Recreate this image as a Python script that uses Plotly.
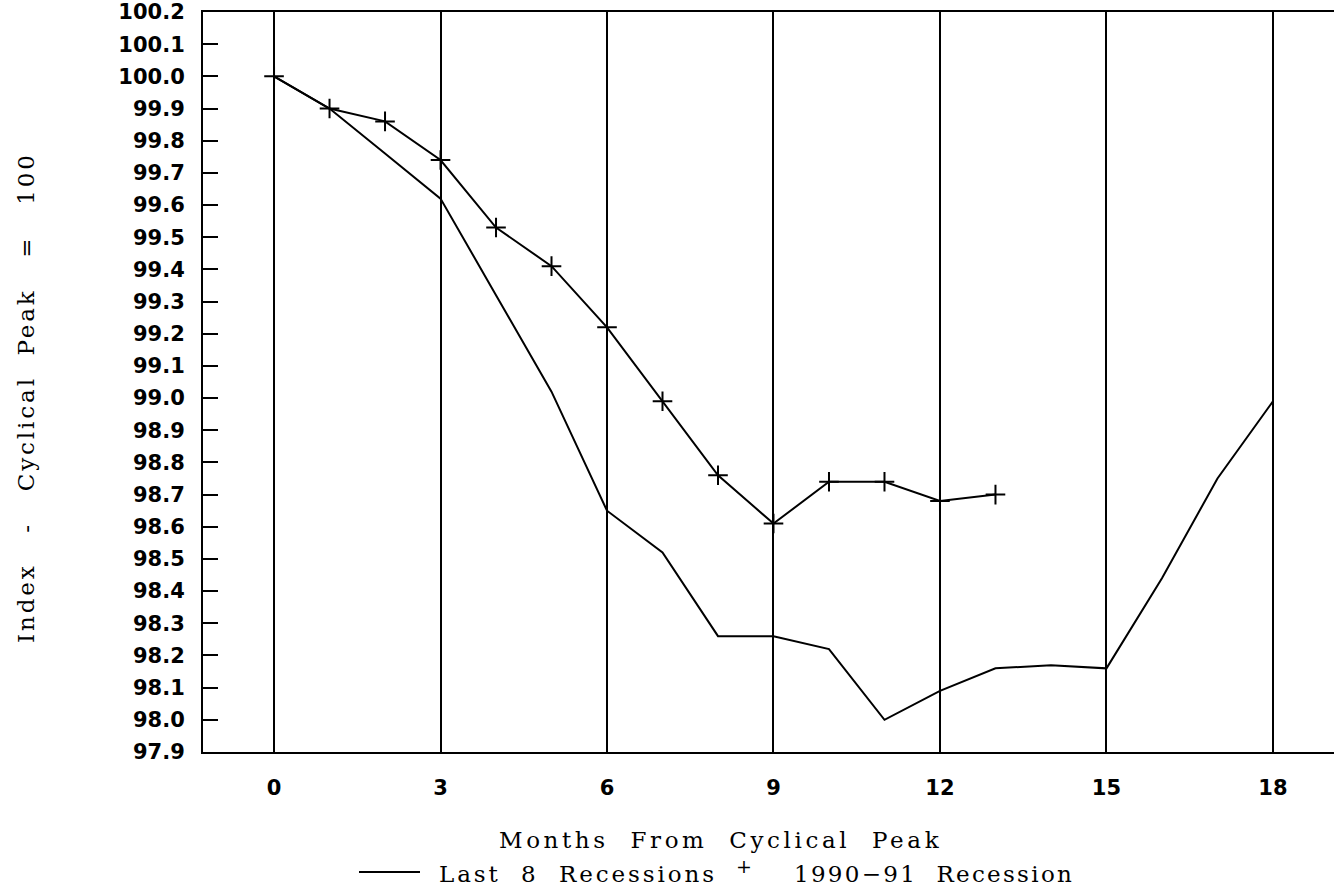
import plotly.graph_objects as go

months = list(range(0, 19))
last8 = [100.0, 99.90, 99.76, 99.62, 99.32, 99.02, 98.65, 98.52, 98.26, 98.26,
         98.22, 98.00, 98.09, 98.16, 98.17, 98.16, 98.44, 98.75, 98.99]
months_9091 = list(range(0, 14))
rec9091 = [100.0, 99.90, 99.86, 99.74, 99.53, 99.41, 99.22, 98.99, 98.76, 98.61,
           98.74, 98.74, 98.68, 98.70]

y_ticks = [round(97.9 + 0.1 * i, 1) for i in range(24)]
y_ticklabels = [f"{v:.1f}" for v in y_ticks]
x_ticks = [0, 3, 6, 9, 12, 15, 18]

tick_font = dict(family="DejaVu Sans", size=21, color="black", weight="bold")
text_font = dict(family="DejaVu Serif", size=23, color="black")


def spaced(s, px):
    return f'<span style="letter-spacing:{px}px">{s}</span>'


fig = go.Figure()
fig.add_trace(go.Scatter(x=months, y=last8, mode="lines", name="Last 8 Recessions",
                         line=dict(color="black", width=2), showlegend=False))
fig.add_trace(go.Scatter(x=months_9091, y=rec9091, mode="lines+markers",
                         name="1990\u221291 Recession",
                         line=dict(color="black", width=2),
                         marker=dict(symbol="cross-thin", size=14,
                                     line=dict(color="black", width=2)),
                         showlegend=False))

L, T, W, H, B = 203, 12, 1334, 888, 136
plot_w = W - L
plot_h = H - T - B


def px_x(p):
    return (p - L) / plot_w


def px_y(p):
    return (H - B - p) / plot_h


fig.update_layout(
    width=W, height=H,
    margin=dict(l=L, r=0, t=T, b=B),
    paper_bgcolor="white", plot_bgcolor="white",
    showlegend=False,
    xaxis=dict(range=[-1.28, 19.1], tickvals=x_ticks, ticktext=[str(v) for v in x_ticks],
               showgrid=True, gridcolor="black", gridwidth=2,
               showline=True, linecolor="black", linewidth=2, mirror=True,
               ticks="", tickfont=tick_font, zeroline=False, ticklabelstandoff=16),
    yaxis=dict(range=[97.9, 100.2], tickvals=y_ticks, ticktext=y_ticklabels,
               showgrid=False, zeroline=False,
               showline=True, linecolor="black", linewidth=2,
               ticks="inside", ticklen=15, tickwidth=2, tickcolor="black",
               tickfont=tick_font, ticklabelstandoff=12),
    annotations=[
        dict(text=spaced("Months  From  Cyclical  Peak", 3.6), xref="paper", yref="paper",
             x=px_x(720), y=px_y(840), xanchor="center", yanchor="middle",
             showarrow=False, font=text_font),
        dict(text=spaced("Index   -   Cyclical  Peak   =   100", 2.9), xref="paper", yref="paper",
             x=px_x(26), y=px_y(398), xanchor="center", yanchor="middle",
             textangle=-90, showarrow=False, font=text_font),
        # legend
        dict(text=spaced("Last  8  Recessions", 2.9), xref="paper", yref="paper",
             x=px_x(437), y=px_y(874), xanchor="left", yanchor="middle",
             showarrow=False, font=text_font),
        dict(text="+", xref="paper", yref="paper",
             x=px_x(744), y=px_y(866), xanchor="center", yanchor="middle",
             showarrow=False, font=dict(family="DejaVu Serif", size=19, color="black")),
        dict(text=spaced("1990\u221291  Recession", 2.3), xref="paper", yref="paper",
             x=px_x(792), y=px_y(874), xanchor="left", yanchor="middle",
             showarrow=False, font=text_font),
    ],
    shapes=[
        dict(type="line", xref="paper", yref="paper",
             x0=px_x(359), x1=px_x(420), y0=px_y(872), y1=px_y(872),
             line=dict(color="black", width=2)),
    ],
)

fig.write_html("out.html", config={"displayModeBar": False},
               post_script="document.body.style.margin='0';")
